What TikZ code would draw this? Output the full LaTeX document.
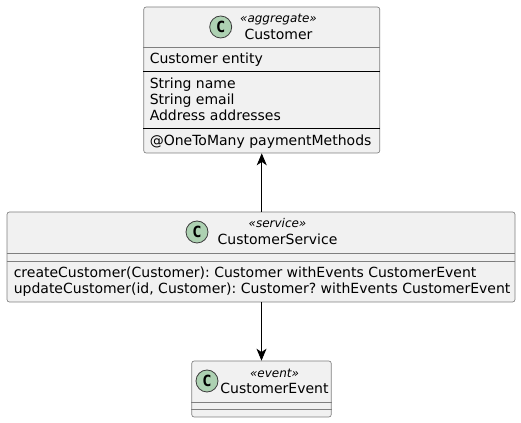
\documentclass[tikz,border=0pt]{standalone}
\usepackage{fontspec}
\setmainfont{DejaVu Sans}
\newfontfamily\spotfont{DejaVu Sans Mono}
\usetikzlibrary{arrows.meta}
\definecolor{boxfill}{HTML}{F1F1F1}
\definecolor{boxline}{HTML}{7F7F7F}
\definecolor{spotfill}{HTML}{ADD1B2}
\definecolor{spotline}{HTML}{3C3C3C}
\frenchspacing
\tikzset{
  classbox/.style={draw=boxline,fill=boxfill,rounded corners=1.8pt,line width=.5pt,inner sep=0pt},
  spot/.style={circle,draw=spotline,fill=spotfill,line width=.6pt,minimum size=16.5pt,inner sep=0pt,font=\fontsize{11.5}{12}\selectfont\spotfont\bfseries},
  member/.style={anchor=base west,inner sep=0pt,font=\fontsize{10.5}{12}\selectfont},
  title/.style={anchor=base,inner sep=0pt,font=\fontsize{10.5}{12}\selectfont},
  stereo/.style={anchor=base,inner sep=0pt,font=\fontsize{9}{11}\selectfont\itshape},
  graysep/.style={draw=boxline,line width=.5pt},
  blacksep/.style={draw=black,line width=.6pt},
  link/.style={draw=black,line width=.6pt,-{Stealth[length=9pt,width=7.5pt,inset=2.6pt]}}
}
\begin{document}
\begin{tikzpicture}[x=.75pt,y=-.75pt]
  \useasboundingbox (0,0) rectangle (521,423);
  \draw
    (261.75,80) node[classbox,minimum width=177pt,minimum height=109.5pt] (customer){}
    (261,257) node[classbox,minimum width=381pt,minimum height=67.5pt] (service){}
    (261.5,389) node[classbox,minimum width=104.6pt,minimum height=42pt] (event){};
  % customer
  \draw[graysep] (customer.west |- 0,47) -- (customer.east |- 0,47);
  \draw[blacksep] (customer.west |- 0,71.5) -- (customer.east |- 0,71.5);
  \draw[blacksep] (customer.west |- 0,128) -- (customer.east |- 0,128);
  \node[spot] (customerspot) at (220.7,27) {C};
  \node[stereo] (customerstereo) at (278.5,23) {«aggregate»};
  \node[title] (customertitle) at (278.5,39.5) {Customer};
  \node[member] (customerdoc) at (149.5,64) {Customer entity};
  \node[member] (customername) at (149.5,89) {String name};
  \node[member] (customeremail) at (149.5,105) {String email};
  \node[member] (customeraddr) at (149.5,121) {Address addresses};
  \node[member] (customerpay) at (149.5,145.5) {@OneToMany paymentMethods};
  % service
  \draw[graysep] (service.west |- 0,253) -- (service.east |- 0,253);
  \draw[graysep] (service.west |- 0,261) -- (service.east |- 0,261);
  \node[spot] (servicespot) at (197,232) {C};
  \node[stereo] (servicestereo) at (277.5,228) {«service»};
  \node[title] (servicetitle) at (277.5,245) {CustomerService};
  \node[member] (servicecreate) at (13.5,278) {createCustomer(Customer): Customer withEvents CustomerEvent};
  \node[member] (serviceupdate) at (13.5,294) {updateCustomer(id, Customer): Customer? withEvents CustomerEvent};
  % event
  \draw[graysep] (event.west |- 0,402) -- (event.east |- 0,402);
  \draw[graysep] (event.west |- 0,409.5) -- (event.east |- 0,409.5);
  \node[spot] (eventspot) at (207,381) {C};
  \node[stereo] (eventstereo) at (274.5,378) {«event»};
  \node[title] (eventtitle) at (274.5,394) {CustomerEvent};
  % links
  \draw[link] (service.north -| customer.south) to (customer.south);
  \draw[link] (service.south -| event.north) to (event.north);
\end{tikzpicture}
\end{document}
